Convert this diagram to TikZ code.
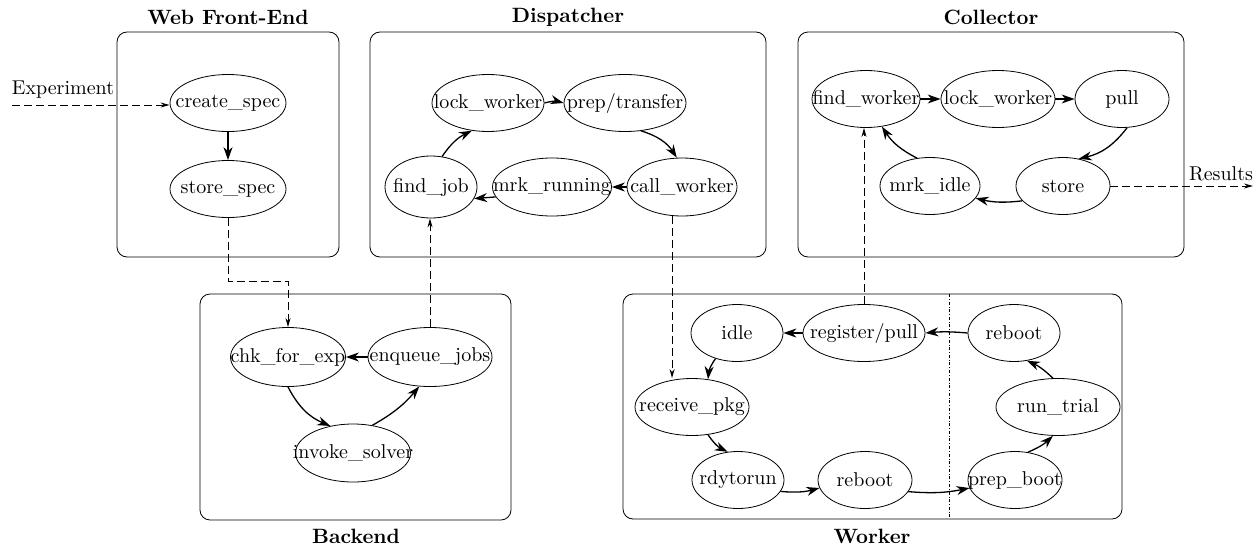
\documentclass[tikz,border=0pt]{standalone}
\usepackage{fontspec}
\setmainfont{lmroman10-regular}[Extension=.otf,BoldFont=lmroman10-bold]
\usetikzlibrary{shapes.geometric,arrows.meta}
\newcommand{\lbl}[1]{\makebox[0pt]{#1}}
\tikzstyle{every node}=[font=\fontsize{20}{24}\selectfont]
\tikzstyle{proc}=[draw,ellipse,inner sep=0pt,line width=0.8pt,minimum height=57pt]
\tikzstyle{cluster}=[draw,line width=0.8pt,rounded corners=10pt]
\tikzstyle{title}=[font=\fontsize{20.7}{25}\selectfont\bfseries]
\tikzstyle{trans}=[line width=1.3pt,-{Stealth[length=13pt,width=9pt]}]
\tikzstyle{link}=[line width=1pt,dash pattern=on 8pt off 4pt,-{Stealth[length=9pt,width=5pt]}]

\begin{document}
\begin{tikzpicture}[x=1pt,y=-1pt]
  \useasboundingbox (0,0) rectangle (1260,546);

  % clusters
  \draw[cluster] (117,32) rectangle (339,257);
  \draw[cluster] (370,32) rectangle (766,257);
  \draw[cluster] (798,32) rectangle (1184,257);
  \draw[cluster] (200,294) rectangle (511,520);
  \draw[cluster] (623,294) rectangle (1122,519);
  \draw[line width=0.6pt,dash dot] (949,294) -- (949,519);

  \node[title] (webt) at (228,17) {Web Front-End};
  \node[title] (dispt) at (568,17) {Dispatcher};
  \node[title] (collt) at (991,17) {Collector};
  \node[title] (backt) at (356,536) {Backend};
  \node[title] (workt) at (872,536) {Worker};

  % web front-end
  \node[proc,minimum width=116pt] (createspec) at (228,103) {\lbl{create\_spec}};
  \node[proc,minimum width=116pt] (storespec) at (228,189) {\lbl{store\_spec}};

  % dispatcher
  \node[proc,minimum width=112pt] (dlock) at (488,103) {\lbl{lock\_worker}};
  \node[proc,minimum width=122pt] (dprep) at (625,103) {\lbl{prep/transfer}};
  \node[proc,minimum width=110pt,minimum height=58pt] (dcall) at (682,187) {\lbl{call\_worker}};
  \node[proc,minimum width=119pt,minimum height=58pt] (dmrk) at (552,187) {\lbl{mrk\_running}};
  \node[proc,minimum width=92pt,minimum height=62pt] (dfind) at (431,187) {\lbl{find\_job}};

  % collector
  \node[proc,minimum width=108pt] (cfind) at (866,99) {\lbl{find\_worker}};
  \node[proc,minimum width=114pt] (clock) at (998,99) {\lbl{lock\_worker}};
  \node[proc,minimum width=94pt] (cpull) at (1122,99) {\lbl{pull}};
  \node[proc,minimum width=94pt] (cstore) at (1063,186) {\lbl{store}};
  \node[proc,minimum width=100pt] (cidle) at (930,186) {\lbl{mrk\_idle}};

  % backend
  \node[proc,minimum width=115pt,minimum height=59pt] (bchk) at (288,357) {\lbl{chk\_for\_exp}};
  \node[proc,minimum width=124pt,minimum height=59pt] (benq) at (430,357) {\lbl{enqueue\_jobs}};
  \node[proc,minimum width=115pt,minimum height=58pt] (binv) at (353,453) {\lbl{invoke\_solver}};

  % worker
  \node[proc,minimum width=92pt] (widle) at (737,333) {\lbl{idle}};
  \node[proc,minimum width=122pt] (wreg) at (864,333) {\lbl{register/pull}};
  \node[proc,minimum width=92pt] (wrebta) at (1014,333) {\lbl{reboot}};
  \node[proc,minimum width=114pt] (wrecv) at (692,407) {\lbl{receive\_pkg}};
  \node[proc,minimum width=124pt] (wrun) at (1058,407) {\lbl{run\_trial}};
  \node[proc,minimum width=92pt] (wrdy) at (738,480) {\lbl{rdytorun}};
  \node[proc,minimum width=94pt] (wrebtb) at (865,480) {\lbl{reboot}};
  \node[proc,minimum width=94pt] (wprep) at (1015,480) {\lbl{prep\_boot}};

  % transitions
  \draw[trans] (createspec) -- (storespec);

  \draw[trans] (dlock.east) to[bend left=15] (dprep.west);
  \draw[trans] (dprep.-60) to[bend left=20] (dcall.100);
  \draw[trans] (dcall.west) -- (dmrk.east);
  \draw[trans] (dmrk.-170) -- (dfind.-15);
  \draw[trans] (dfind.70) to[bend left=15] (dlock.-120);

  \draw[trans] (cfind) -- (clock);
  \draw[trans] (clock) -- (cpull);
  \draw[trans] (cpull.-80) to[bend left=20] (cstore.60);
  \draw[trans] (cstore.-160) to[bend left=10] (cidle.-15);
  \draw[trans] (cidle.115) to[bend left=15] (cfind.-60);

  \draw[trans] (benq.west) -- (bchk.east);
  \draw[trans] (bchk.-90) to[bend right=20] (binv.130);
  \draw[trans] (binv.55) to[bend right=10] (benq.-110);

  \draw[trans] (wreg.west) -- (widle.east);
  \draw[trans] (wrebta.west) to[bend right=5] (wreg.east);
  \draw[trans] (widle.-130) to[bend right=15] (wrecv.60);
  \draw[trans] (wrecv.-60) to[bend right=15] (wrdy.110);
  \draw[trans] (wrdy.-15) to[bend right=10] (wrebtb.-170);
  \draw[trans] (wrebtb.-15) to[bend right=8] (wprep.-170);
  \draw[trans] (wprep.65) to[bend right=10] (wrun.-100);
  \draw[trans] (wrun.100) to[bend right=10] (wrebta.-65);

  % links between clusters
  \node (exptxt) at (63,90) {Experiment};
  \coordinate (expin) at (12,105);
  \draw[link] (expin) -- (createspec.west |- expin);
  \node (restxt) at (1221,174) {Results};
  \coordinate (resout) at (1253,186);
  \draw[link] (cstore.east) -- (resout);

  \coordinate (specturn) at (288,281);
  \draw[link] (storespec.south) |- (specturn) -- (bchk.north);
  \draw[link] (benq.north) -- (benq.north |- dfind.south);
  \draw[link] (dcall.251) -- (dcall.251 |- wrecv.north);
  \draw[link] (wreg.north) -- (wreg.north |- cfind.south);
\end{tikzpicture}
\end{document}
